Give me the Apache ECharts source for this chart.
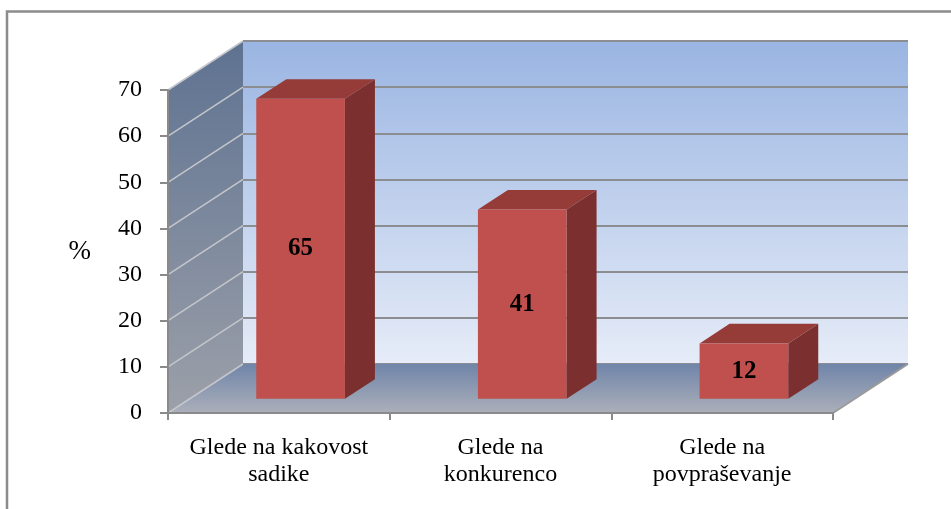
<!DOCTYPE html>
<html>
<head>
<meta charset="utf-8">
<script src="https://cdn.jsdelivr.net/npm/echarts@6/dist/echarts.min.js"></script>
<style>
html,body{margin:0;padding:0;background:#fff;}
#main{width:951px;height:509px;}
</style>
</head>
<body>
<div id="main"></div>
<script>
// podatki
var categories=['Glede na kakovost\nsadike','Glede na\nkonkurenco','Glede na\npovpraševanje'];
var values=[65,41,12];
var yMin=0, yMax=70, yStep=10;

// globina 3D (zamik zadnje stene)
var DX=75, DY=-49;
var FONT='"Liberation Serif", "Times New Roman", serif';

var chart=echarts.init(document.getElementById('main'));

function lg(c1,c2){
	return new echarts.graphic.LinearGradient(0,0,0,1,[{offset:0,color:c1},{offset:1,color:c2}]);
}

// stranska stena in tla
function renderWalls(params,api){
	var cs=params.coordSys;
	var x0=cs.x, x1=cs.x+cs.width;
	var y0=api.coord([0,yMin])[1];
	var yt=api.coord([0,yMax])[1];
	var kids=[];
	kids.push({type:'polygon',shape:{points:[[x0,yt],[x0+DX,yt+DY],[x0+DX,y0+DY],[x0,y0]]},
		style:{fill:lg('#5e7291','#9ca0a9')}});
	kids.push({type:'polygon',shape:{points:[[x0,y0],[x0+DX,y0+DY],[x1+DX,y0+DY],[x1,y0]]},
		style:{fill:lg('#7085a9','#abafba')}});
	for(var v=yMin;v<=yMax;v+=yStep){
		var y=api.coord([0,v])[1];
		kids.push({type:'line',shape:{x1:x0,y1:y,x2:x0+DX,y2:y+DY},
			style:{stroke:'#c4c6cb',lineWidth:1.5}});
	}
	kids.push({type:'line',shape:{x1:x1,y1:y0,x2:x1+DX,y2:y0+DY},style:{stroke:'#9a9a9a',lineWidth:2}});
	return {type:'group',children:kids};
}

// 3D stolpci
function renderBar(params,api){
	var idx=api.value(0), val=api.value(1);
	var base=api.coord([idx,yMin]);
	var top=api.coord([idx,val]);
	var w=api.size([1,0])[0]*0.4;
	var d0=0.29, dd=0.4;
	var cx=base[0]+d0*DX;
	var fl=cx-w/2, fr=cx+w/2;
	var fb=base[1]+d0*DY, ft=top[1]+d0*DY;
	var ddx=dd*DX, ddy=dd*DY;
	return {type:'group',children:[
		{type:'polygon',shape:{points:[[fr,ft],[fr+ddx,ft+ddy],[fr+ddx,fb+ddy],[fr,fb]]},style:{fill:'#7b302f'}},
		{type:'polygon',shape:{points:[[fl,ft],[fl+ddx,ft+ddy],[fr+ddx,ft+ddy],[fr,ft]]},style:{fill:'#953b38'}},
		{type:'rect',shape:{x:fl,y:ft,width:w,height:fb-ft},style:{fill:'#c0504d'}},
		{type:'text',x:cx,y:(ft+fb)/2,style:{text:String(val),fill:'#000',font:'bold 25px '+FONT,
			align:'center',verticalAlign:'middle'}}
	]};
}

var option={
	backgroundColor:'#fff',
	animation:false,
	graphic:[{type:'rect',shape:{x:7,y:11.5,width:1000,height:600},
		style:{fill:'none',stroke:'#8c8c8c',lineWidth:2.5},z:100}],
	grid:[
		{left:168,top:90,width:665,height:323},
		{left:243,top:41,width:665,height:323,show:true,borderWidth:0,
			backgroundColor:lg('#9ab5e2','#e6ecf8')}
	],
	xAxis:[
		{type:'category',gridIndex:0,data:categories,z:5,
			axisLine:{lineStyle:{color:'#8a8a8a',width:2}},
			axisTick:{show:true,interval:0,length:7,lineStyle:{color:'#8a8a8a',width:2}},
			axisLabel:{interval:0,color:'#000',fontFamily:FONT,fontSize:24,lineHeight:27,margin:21}},
		{type:'category',gridIndex:1,data:categories,show:false}
	],
	yAxis:[
		{type:'value',gridIndex:0,min:yMin,max:yMax,interval:yStep,z:5,
			name:'%',nameLocation:'middle',nameRotate:0,nameGap:77,
			nameTextStyle:{color:'#000',fontFamily:FONT,fontSize:27,padding:[8,0,0,0]},
			axisLine:{show:true,lineStyle:{color:'#8a8a8a',width:2}},
			axisTick:{show:true,length:8,lineStyle:{color:'#8a8a8a',width:2}},
			axisLabel:{color:'#000',fontFamily:FONT,fontSize:24,margin:26},
			splitLine:{show:false}},
		{type:'value',gridIndex:1,min:yMin,max:yMax,interval:yStep,
			axisLine:{show:false},axisTick:{show:false},axisLabel:{show:false},
			splitLine:{show:true,lineStyle:{color:'#8b8d91',width:2}}}
	],
	series:[
		{type:'custom',xAxisIndex:0,yAxisIndex:0,data:[[0,0]],renderItem:renderWalls,z:1,silent:true},
		{type:'custom',xAxisIndex:0,yAxisIndex:0,z:3,
			data:values.map(function(v,i){return [i,v];}),
			encode:{x:0,y:1},renderItem:renderBar}
	]
};
chart.setOption(option);
</script>
</body>
</html>
